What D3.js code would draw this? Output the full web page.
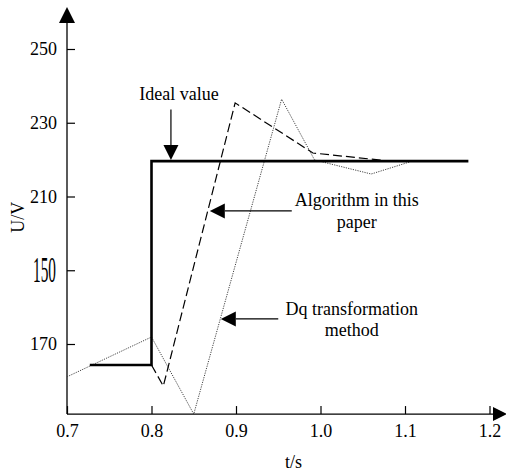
<!DOCTYPE html>
<html>
<head>
<meta charset="utf-8">
<script src="https://cdn.jsdelivr.net/npm/d3@7"></script>
<style>
  html, body { margin: 0; padding: 0; background: #fff; }
</style>
</head>
<body>
<svg id="chart" width="506" height="474"></svg>
<script>
// Voltage response after a step change: ideal value vs. two detection methods
const idealT = [0.727, 0.8, 0.8, 1.175];
const idealU = [164.3, 164.3, 219.6, 219.6];

const algoT = [0.8, 0.814, 0.899, 0.991, 1.074];
const algoU = [164.3, 158.6, 235.4, 221.8, 219.8];

const dqT = [0.7, 0.8, 0.85, 0.954, 0.993, 1.06, 1.106];
const dqU = [161.1, 171.9, 151.0, 236.4, 219.9, 216.1, 219.4];

const xTicks = [0.7, 0.8, 0.9, 1.0, 1.1, 1.2];
const xTickLabels = ["0.7", "0.8", "0.9", "1.0", "1.1", "1.2"];
const yTicks = [250, 230, 210, 190, 170];
const yTickLabels = ["250", "230", "210", "150", "170"];

const FONT = "'Liberation Serif'";
const font = 18;

const svg = d3.select("#chart");

const x = d3.scaleLinear().domain([0.7, 1.2]).range([67, 489.5]);
const y = d3.scaleLinear().domain([170, 250]).range([344, 49]);

const tMin = 0.7, uMin = 151;
const x0 = x(tMin), y0 = y(uMin);

function label(sel) {
  return sel.attr("font-family", "Liberation Serif").style("font-family", FONT)
    .attr("font-size", font).attr("fill", "#000");
}

// Axes
const xAxis = d3.axisBottom(x)
  .tickValues(xTicks)
  .tickFormat((d, i) => xTickLabels[i])
  .tickSizeInner(-8).tickSizeOuter(0).tickPadding(10);
const gx = svg.append("g").attr("transform", `translate(0,${y0})`).call(xAxis)
  .attr("font-family", null).attr("font-size", null);
gx.select(".domain").remove();
gx.selectAll(".tick line").attr("stroke", "#000").attr("stroke-width", 1.2);
label(gx.selectAll(".tick text"));

const yAxis = d3.axisLeft(y)
  .tickValues(yTicks)
  .tickFormat((d, i) => yTickLabels[i])
  .tickSizeInner(-8).tickSizeOuter(0).tickPadding(10);
const gy = svg.append("g").attr("transform", `translate(${x0},0)`).call(yAxis)
  .attr("font-family", null).attr("font-size", null);
gy.select(".domain").remove();
gy.selectAll(".tick line").attr("stroke", "#000").attr("stroke-width", 1.2);
label(gy.selectAll(".tick text"));
// the "150" label is set in a tall, narrow face
gy.selectAll(".tick text").filter((d, i) => yTickLabels[i] === "150")
  .attr("x", 0)
  .attr("transform", "translate(-11,0) scale(0.85,2.0)");

// axis lines with arrowheads
svg.append("line").attr("x1", x0).attr("x2", x0).attr("y1", y0).attr("y2", 20)
  .attr("stroke", "#000").attr("stroke-width", 1.3);
svg.append("path").attr("d", `M${x0},7 L${x0 - 8},23 L${x0 + 8},23 Z`).attr("fill", "#000");
svg.append("line").attr("x1", x0).attr("x2", 497).attr("y1", y0).attr("y2", y0)
  .attr("stroke", "#000").attr("stroke-width", 1.3);
svg.append("path").attr("d", `M507,${y0} L493,${y0 - 7} L493,${y0 + 7} Z`).attr("fill", "#000");

// axis titles
label(svg.append("text")).attr("x", x(0.968)).attr("y", 468).attr("text-anchor", "middle").text("t/s");
label(svg.append("text")).attr("transform", `translate(24,${y(204.4)}) rotate(-90)`)
  .attr("text-anchor", "middle").text("U/V");

const line = d3.line().x(d => x(d[0])).y(d => y(d[1]));

// Dq transformation method (dotted)
svg.append("path").datum(dqT.map((t, i) => [t, dqU[i]]))
  .attr("d", line).attr("fill", "none").attr("stroke", "#444")
  .attr("stroke-width", 1).attr("stroke-dasharray", "1.2,1.2");

// Algorithm in this paper (dashed)
svg.append("path").datum(algoT.map((t, i) => [t, algoU[i]]))
  .attr("d", line).attr("fill", "none").attr("stroke", "#000")
  .attr("stroke-width", 1.2).attr("stroke-dasharray", "9,4");

// Ideal value (thick solid)
svg.append("path").datum(idealT.map((t, i) => [t, idealU[i]]))
  .attr("d", line).attr("fill", "none").attr("stroke", "#000")
  .attr("stroke-width", 2.6).attr("stroke-linejoin", "miter");

// Annotation arrows: tail -> tip, filled triangular head
function arrow(x1, y1, x2, y2) {
  const len = 15, half = 7.5;
  const dx = x2 - x1, dy = y2 - y1, L = Math.hypot(dx, dy);
  const ux = dx / L, uy = dy / L;
  const bx = x2 - ux * len, by = y2 - uy * len;
  svg.append("line").attr("x1", x1).attr("y1", y1).attr("x2", bx).attr("y2", by)
    .attr("stroke", "#000").attr("stroke-width", 1.2);
  svg.append("path")
    .attr("d", `M${x2},${y2} L${bx - uy * half},${by + ux * half} L${bx + uy * half},${by - ux * half} Z`)
    .attr("fill", "#000");
}

// Ideal value
label(svg.append("text")).attr("x", x(0.8325)).attr("y", y(237.5) + 5)
  .attr("text-anchor", "middle").text("Ideal value");
arrow(x(0.823), y(233.6), x(0.823), y(219.6) - 1);

// Algorithm in this paper
label(svg.append("text")).attr("x", x(1.043)).attr("y", y(209.1) + 6)
  .attr("text-anchor", "middle").text("Algorithm in this");
label(svg.append("text")).attr("x", x(1.043)).attr("y", y(203.1) + 6)
  .attr("text-anchor", "middle").text("paper");
arrow(x(0.966), y(206.1), x(0.869), y(206.1));

// Dq transformation method
label(svg.append("text")).attr("x", x(1.037)).attr("y", y(179.5) + 6)
  .attr("text-anchor", "middle").text("Dq transformation");
label(svg.append("text")).attr("x", x(1.037)).attr("y", y(173.8) + 6)
  .attr("text-anchor", "middle").text("method");
arrow(x(0.95), y(176.8), x(0.882), y(176.8));
</script>
</body>
</html>
